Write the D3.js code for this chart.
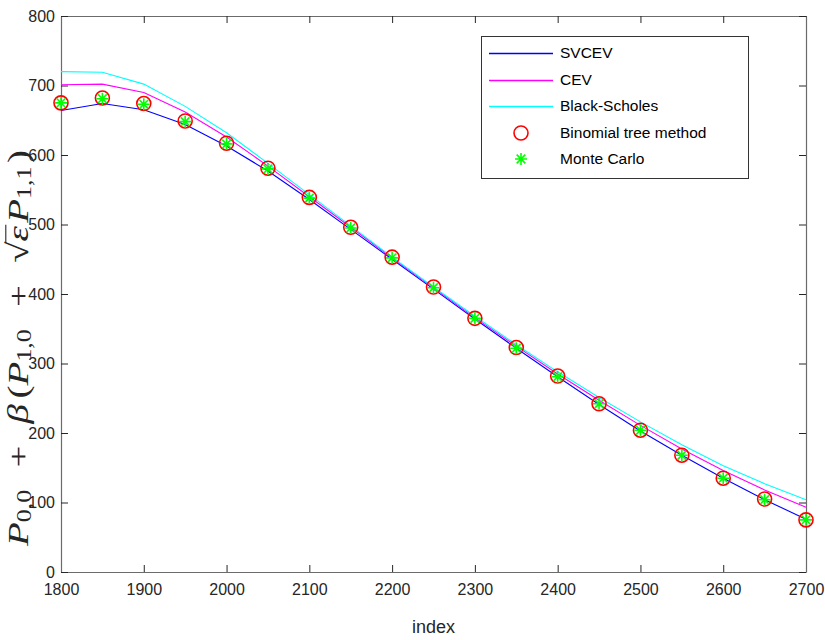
<!DOCTYPE html>
<html>
<head>
<meta charset="utf-8">
<script src="https://cdn.jsdelivr.net/npm/d3@7"></script>
<style>
  body { margin: 0; background: #fff; }
  svg { display: block; }
</style>
</head>
<body>
<div id="chart"></div>
<script>
const strikes = [1800, 1850, 1900, 1950, 2000, 2050, 2100, 2150, 2200, 2250,
                 2300, 2350, 2400, 2450, 2500, 2550, 2600, 2650, 2700];
const svcev = [664, 674, 665, 644, 613, 577, 536, 493, 450, 407,
               364, 322, 281, 241, 203, 168, 135, 104, 76];
const cev = [701, 702, 690, 662, 626, 584, 540, 496, 452, 409,
             366, 325, 285, 247, 211, 177, 146, 118, 93];
const blackScholes = [720, 719, 702, 670, 632, 588, 543, 498, 453, 410,
                      368, 327, 288, 251, 216, 183, 153, 127, 104];
const binomial = [675, 682, 674, 649, 617, 581, 539, 496, 453, 410,
                  365, 323, 282, 242, 204, 168, 135, 105, 75];
const monteCarlo = [675, 681, 673, 648, 616, 580, 538, 495, 452, 409,
                    365, 322, 281, 242, 204, 168, 135, 104, 75];
const xTicks = [1800, 1900, 2000, 2100, 2200, 2300, 2400, 2500, 2600, 2700];
const yTicks = [0, 100, 200, 300, 400, 500, 600, 700, 800];

const W = 825, H = 640;
const MARGIN = { top: 16, right: 19, bottom: 68, left: 61 };
const width = W - MARGIN.left - MARGIN.right;
const height = H - MARGIN.top - MARGIN.bottom;
const AXIS = "#262626";
const FONT = "'Liberation Sans', Arial, Helvetica, sans-serif";

const svg = d3.select("#chart").append("svg")
    .attr("width", W)
    .attr("height", H);
const g = svg.append("g")
    .attr("transform", `translate(${MARGIN.left},${MARGIN.top})`);

const x = d3.scaleLinear().domain([1800, 2700]).range([0, width]);
const y = d3.scaleLinear().domain([0, 800]).range([height, 0]);

// axes, MATLAB style: ticks inward on all four sides
const tickLen = 7;
const bottomAxis = g.append("g")
    .attr("transform", `translate(0,${height})`)
    .call(d3.axisBottom(x).tickValues(xTicks).tickSizeInner(-tickLen).tickSizeOuter(0).tickPadding(16).tickFormat(d3.format("d")));
const topAxis = g.append("g")
    .call(d3.axisTop(x).tickValues(xTicks).tickSizeInner(-tickLen).tickSizeOuter(0).tickFormat(""));
const leftAxis = g.append("g")
    .call(d3.axisLeft(y).tickValues(yTicks).tickSizeInner(-tickLen).tickSizeOuter(0).tickPadding(6));
const rightAxis = g.append("g")
    .attr("transform", `translate(${width},0)`)
    .call(d3.axisRight(y).tickValues(yTicks).tickSizeInner(-tickLen).tickSizeOuter(0).tickFormat(""));

[bottomAxis, topAxis, leftAxis, rightAxis].forEach(a => {
    a.selectAll("path.domain").attr("stroke", "#6b6b6b").attr("stroke-width", 1.2);
    a.selectAll(".tick line").attr("stroke", AXIS).attr("stroke-width", 1);
    a.selectAll("text")
        .attr("fill", AXIS)
        .style("font-family", FONT)
        .style("font-size", "16px");
});
bottomAxis.selectAll("text").attr("dy", "0.45em");

// lines
const line = d3.line()
    .x((d, i) => x(strikes[i]))
    .y(d => y(d));

const series = [
    { name: "SVCEV", values: svcev, color: "#0000ff" },
    { name: "CEV", values: cev, color: "#ff00ff" },
    { name: "Black-Scholes", values: blackScholes, color: "#00ffff" }
];

series.forEach(s => {
    g.append("path")
        .datum(s.values)
        .attr("fill", "none")
        .attr("stroke", s.color)
        .attr("stroke-width", 1.1)
        .attr("d", line);
});

// markers
function circleMarker(sel, cx, cy) {
    sel.append("circle")
        .attr("cx", cx).attr("cy", cy).attr("r", 7)
        .attr("fill", "none")
        .attr("stroke", "#ff0000")
        .attr("stroke-width", 1.6);
}
function starMarker(sel, cx, cy) {
    const r = 6, d = r * 0.72;
    const p = `M${cx - r},${cy}L${cx + r},${cy}M${cx},${cy - r}L${cx},${cy + r}` +
        `M${cx - d},${cy - d}L${cx + d},${cy + d}M${cx - d},${cy + d}L${cx + d},${cy - d}`;
    sel.append("path")
        .attr("d", p)
        .attr("stroke", "#00ff00")
        .attr("stroke-width", 1.6)
        .attr("fill", "none");
}

const markers = g.append("g");
binomial.forEach((v, i) => circleMarker(markers, x(strikes[i]), y(v)));
monteCarlo.forEach((v, i) => starMarker(markers, x(strikes[i]), y(v)));

// legend
const legend = svg.append("g").attr("transform", "translate(481,36)");
legend.append("rect")
    .attr("x", 0.5).attr("y", 0.5)
    .attr("width", 267).attr("height", 142)
    .attr("fill", "#fff")
    .attr("stroke", "#333")
    .attr("stroke-width", 1);

const legendItems = [
    { label: "SVCEV", type: "line", color: "#0000ff" },
    { label: "CEV", type: "line", color: "#ff00ff" },
    { label: "Black-Scholes", type: "line", color: "#00ffff" },
    { label: "Binomial tree method", type: "circle" },
    { label: "Monte Carlo", type: "star" }
];
legendItems.forEach((item, i) => {
    const cy = Math.round(17 + i * 26.5);
    if (item.type === "line") {
        legend.append("line")
            .attr("x1", 8).attr("x2", 72)
            .attr("y1", cy + 0.5).attr("y2", cy + 0.5)
            .attr("stroke", item.color)
            .attr("stroke-width", 1.3);
    } else if (item.type === "circle") {
        circleMarker(legend, 40, cy);
    } else {
        starMarker(legend, 40, cy);
    }
    legend.append("text")
        .attr("x", 79).attr("y", cy)
        .attr("dy", "0.35em")
        .attr("fill", "#000")
        .style("font-family", FONT)
        .style("font-size", "15.5px")
        .text(item.label);
});

// x label
svg.append("text")
    .attr("x", MARGIN.left + width / 2)
    .attr("y", 633)
    .attr("text-anchor", "middle")
    .attr("fill", AXIS)
    .style("font-family", FONT)
    .style("font-size", "18px")
    .text("index");

// y label: P_{0,0} + beta (P_{1,0} + sqrt(eps) P_{1,1})
const labelBottom = 546, labelTop = 150;
const FS = 30, SUB = 20;
const ylab = svg.append("g")
    .attr("transform", `translate(28,${labelBottom}) rotate(-90)`);
const stretch = ylab.append("g");
const ytext = stretch.append("text")
    .attr("text-anchor", "start")
    .attr("fill", AXIS)
    .style("font-family", "'Liberation Serif', 'Times New Roman', serif")
    .style("font-size", FS + "px");

// gap: relative weight of extra space before the piece
const parts = [
    { t: "P", it: true }, { t: "0,0", sub: true },
    { t: "+", gap: 2 }, { t: "β", it: true, gap: 2 }, { t: "(", gap: 0.5 },
    { t: "P", it: true }, { t: "1,0", sub: true },
    { t: "+", gap: 2 }, { t: "√", gap: 2 }, { t: "ε", it: true },
    { t: "P", it: true, gap: 0.3 }, { t: "1,1", sub: true }, { t: ")", gap: 0.3 }
];
const tspans = [];
let inSub = false;
parts.forEach(p => {
    const ts = ytext.append("tspan").text(p.t);
    if (p.it) ts.style("font-style", "italic");
    if (p.sub) ts.style("font-size", SUB + "px");
    let dy = 0;
    if (p.sub && !inSub) { dy = 3; inSub = true; }
    else if (!p.sub && inSub) { dy = -3; inSub = false; }
    if (dy) ts.attr("dy", dy);
    tspans.push({ ts, gap: p.gap || 0 });
});
// Computer Modern is wider than Times: stretch along the text, then pad operators
const target = labelBottom - labelTop;
const natural = ytext.node().getComputedTextLength();
const sx = Math.min(1.3, target / natural);
stretch.attr("transform", `scale(${sx},1)`);
const totalGap = d3.sum(tspans, o => o.gap);
const unit = Math.max(0, target / sx - natural) / totalGap;
tspans.forEach(o => { if (o.gap) o.ts.attr("dx", o.gap * unit); });

// overline on the radicand
const full = parts.map(p => p.t).join("");
const epsIdx = full.indexOf("ε");
const node = ytext.node();
const s0 = node.getStartPositionOfChar(epsIdx);
const s1 = node.getEndPositionOfChar(epsIdx);
stretch.append("line")
    .attr("x1", s0.x - 1).attr("x2", s1.x + 1)
    .attr("y1", s0.y - FS * 0.74).attr("y2", s0.y - FS * 0.74)
    .attr("stroke", AXIS)
    .attr("stroke-width", 1.1);
</script>
</body>
</html>
